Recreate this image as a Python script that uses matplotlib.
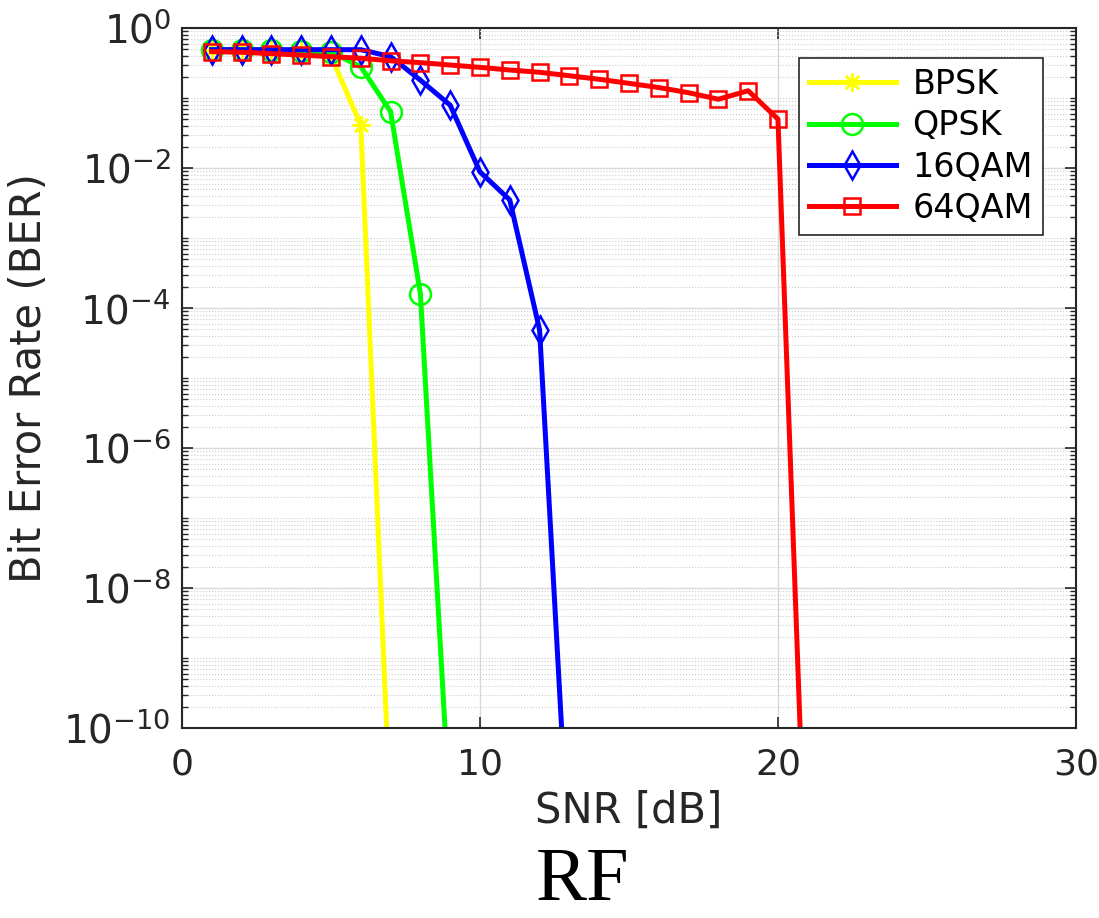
import numpy as np
import matplotlib
matplotlib.use('Agg')
import matplotlib.pyplot as plt

plt.ioff()

# SNR values (dB) for each modulation
snr_bpsk = [1, 2, 3, 4, 5, 6, 7]
snr_qpsk = [1, 2, 3, 4, 5, 6, 7, 8, 9]
snr_16qam = [1, 2, 3, 4, 5, 6, 7, 8, 9, 10, 11, 12, 13]
snr_64qam = list(range(1, 22))

# BER (last point is below the axis floor)
ber_bpsk = [0.49, 0.49, 0.48, 0.47, 0.40, 0.041, 5e-12]
ber_qpsk = [0.49, 0.49, 0.48, 0.47, 0.45, 0.28, 0.064, 1.6e-4, 5e-12]
ber_16qam = [0.49, 0.49, 0.49, 0.49, 0.49, 0.49, 0.39, 0.18, 0.079,
             8.8e-3, 3.5e-3, 4.9e-5, 1e-12]
ber_64qam = [0.46, 0.45, 0.43, 0.41, 0.39, 0.37, 0.34, 0.32, 0.296, 0.274,
             0.251, 0.233, 0.208, 0.185, 0.162, 0.141, 0.119, 0.096, 0.127,
             0.05, 1e-13]

labels = ['BPSK', 'QPSK', '16QAM', '64QAM']
x_ticks = [0, 10, 20, 30]
y_tick_exps = [0, -2, -4, -6, -8, -10]


def main():

    fig_size = (10.99, 9.18)
    dpi = 100
    ax_clr = (0.15, 0.15, 0.15)
    #==========================================================================

    plt.rcParams['font.family'] = ['DejaVu Sans']
    plt.rcParams['mathtext.fontset'] = 'dejavusans'

    fig = plt.figure(figsize=fig_size, dpi=dpi)
    ax = fig.add_axes([0.1656, 0.207, 0.8134, 0.7625])

    series = [
        (snr_bpsk, ber_bpsk, (1, 1, 0), (8, 2, 0), 13),
        (snr_qpsk, ber_qpsk, (0, 1, 0), 'o', 15),
        (snr_16qam, ber_16qam, (0, 0, 1), 'd', 14),
        (snr_64qam, ber_64qam, (1, 0, 0), 's', 11),
        ]

    for (x, y, clr, mkr, ms), lab in zip(series, labels):
        ax.semilogy(
            x, y, color=clr, lw=3.6, marker=mkr, ms=ms,
            mfc='none', mec=clr, mew=1.8, label=lab)

    ax.set_xlim(0, 30)
    ax.set_ylim(1e-10, 1e0)

    ax.set_xticks(x_ticks)
    ax.set_xticklabels([str(t) for t in x_ticks])

    ax.set_yticks([10.0 ** e for e in y_tick_exps])
    ax.set_yticklabels(['$10^{%d}$' % e for e in y_tick_exps])

    minor = []
    for e in range(-10, 0):
        for m in range(1, 10):
            v = m * 10.0 ** e
            if m == 1 and e % 2 == 0:
                continue
            minor.append(v)
    ax.set_yticks(minor, minor=True)
    ax.set_yticklabels([], minor=True)
    ax.xaxis.set_minor_locator(matplotlib.ticker.NullLocator())

    ax.tick_params(
        which='both', direction='in', top=True, right=True,
        colors=ax_clr, labelsize=26, pad=10)
    ax.tick_params(which='major', length=8, width=1.2)
    ax.tick_params(which='minor', length=4, width=1.0)
    ax.tick_params(axis='x', pad=14)
    ax.tick_params(axis='y', labelsize=28, pad=8)

    for sp in ax.spines.values():
        sp.set_color(ax_clr)
        sp.set_linewidth(1.5)

    ax.grid(True, which='major', color=(0.85, 0.85, 0.85), lw=1.0, ls='-')
    ax.grid(True, which='minor', axis='y', color=(0.8, 0.8, 0.8),
            lw=0.8, ls=':')
    ax.set_axisbelow(True)

    ax.set_xlabel('SNR [dB]', fontsize=30, color=ax_clr, labelpad=6)
    ax.set_ylabel('Bit Error Rate (BER)', fontsize=30, color=ax_clr,
                  labelpad=10)

    leg = ax.legend(
        loc='upper right', bbox_to_anchor=(0.963, 0.957), fontsize=24,
        frameon=True, fancybox=False, framealpha=1, edgecolor=ax_clr,
        handlelength=2.6, handletextpad=0.5, borderpad=0.3,
        labelspacing=0.25, borderaxespad=0)
    leg.get_frame().set_linewidth(1.2)

    fig.text(0.53, 0.002, 'RF', fontsize=55, family='Liberation Serif',
             ha='center', va='bottom', color='black')

    fig.savefig('out.png', dpi=dpi)
    plt.close()
    return


if __name__ == '__main__':
    main()
